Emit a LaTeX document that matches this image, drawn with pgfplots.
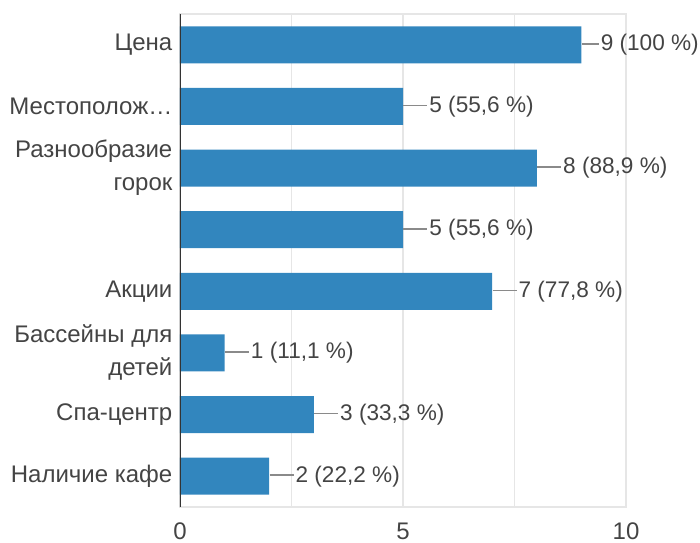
\documentclass[border=0pt]{standalone}
\usepackage{pgfplots}
\pgfplotsset{compat=1.18}
\usepackage{fontspec}
\setmainfont{Liberation Sans}

\definecolor{barblue}{HTML}{3286BE}
\definecolor{gridgray}{HTML}{E6E6E6}
\definecolor{axisdark}{HTML}{333333}
\definecolor{txt}{HTML}{444444}
\definecolor{leader}{HTML}{8A8A8A}
% leader line in front of each value label
\newcommand\lead[1]{\textcolor{leader}{\rule[0.5ex]{#1}{0.8pt}}\hspace{1pt}}

\begin{document}
\begin{tikzpicture}
\begin{axis}[
    at={(0,0)}, anchor=south west,
    scale only axis,
    width=223pt, height=246.5pt,
    xbar, bar width=18.5pt,
    xmin=0, xmax=10,
    ymin=-0.5, ymax=7.5,
    y dir=reverse,
    xtick={0,5,10},
    minor xtick={2.5,7.5},
    ytick={0,...,7},
    yticklabels={Цена, Местополож…, {Разнообразие\\горок}, {}, Акции, {Бассейны для\\детей}, Спа-центр, Наличие кафе},
    xmajorgrids, xminorgrids,
    grid style={gridgray, line width=0.6pt},
    minor grid style={gridgray, line width=0.6pt},
    axis line style={gridgray, line width=0.6pt},
    major tick length=0pt, minor tick length=0pt,
    tick style={draw=none},
    /pgf/number format/assume math mode=true,
    tick label style={font=\fontsize{12}{16.5}\selectfont, text=txt},
    yticklabel style={align=right, xshift=-0.3pt},
    xticklabel style={yshift=-4.5pt},
    point meta=explicit symbolic,
    nodes near coords={\pgfplotspointmeta},
    every node near coord/.append style={anchor=west, inner sep=0pt, xshift=0pt,
        font=\fontsize{11.3}{13}\selectfont, text=txt},
]
\addplot[fill=barblue, draw=none] coordinates {
    (9,0) [\lead{8.5pt}9 (100 \%)]
    (5,1) [\lead{12pt}5 (55,6 \%)]
    (8,2) [\lead{12pt}8 (88,9 \%)]
    (5,3) [\lead{12pt}5 (55,6 \%)]
    (7,4) [\lead{12pt}7 (77,8 \%)]
    (1,5) [\lead{12pt}1 (11,1 \%)]
    (3,6) [\lead{12pt}3 (33,3 \%)]
    (2,7) [\lead{12pt}2 (22,2 \%)]
};
\draw[axisdark, line width=1pt] (axis cs:0,-0.5) -- (axis cs:0,7.5);
\end{axis}
\pgfresetboundingbox
\useasboundingbox (-90pt,-17.5pt) rectangle (260pt,253.5pt);
\end{tikzpicture}
\end{document}
